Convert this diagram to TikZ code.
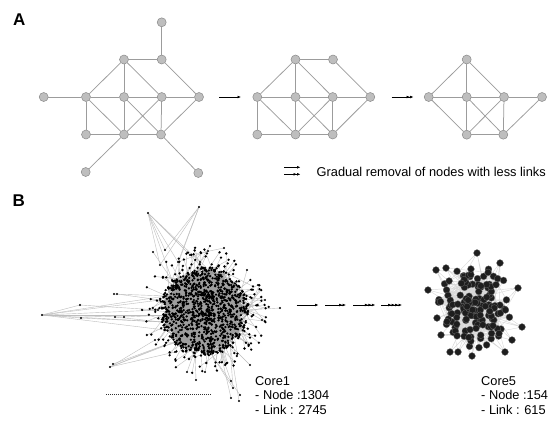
\documentclass[tikz,border=0pt]{standalone}
\usepackage{fontspec}
\setmainfont{Liberation Sans}
\usetikzlibrary{arrows.meta}
\definecolor{nfill}{HTML}{BEBEBE}
\definecolor{nedge}{HTML}{8A8A8A}
\definecolor{gedgec}{HTML}{9C9C9C}
\definecolor{hedgec}{HTML}{9E9E9E}
\definecolor{houtc}{HTML}{BDBDBD}
\definecolor{kedgec}{HTML}{D8D8D8}
\definecolor{knodec}{HTML}{1E1E1E}
\begin{document}
\begin{tikzpicture}[x=1pt,y=-1pt,
  gnode/.style={circle,fill=nfill,draw=nedge,line width=0.5pt,inner sep=0pt,minimum size=9pt},
  gedge/.style={draw=gedgec,line width=0.75pt},
  arr/.style={line width=0.6pt,black},
  tipa/.style={-{Latex[length=3.5pt,width=2.8pt]}},
  tipb/.style={-{Latex[length=3.5pt,width=2.8pt]Latex[length=3.5pt,width=2.8pt]}},
  tipc/.style={-{Latex[length=3.5pt,width=2.8pt]Latex[length=3.5pt,width=2.8pt]Latex[length=3.5pt,width=2.8pt]}},
  tipd/.style={-{Latex[length=3.5pt,width=2.8pt]Latex[length=3.5pt,width=2.8pt]Latex[length=3.5pt,width=2.8pt]Latex[length=3.5pt,width=2.8pt]}},
  hedge/.style={draw=hedgec,line width=0.33pt},
  hout/.style={draw=houtc,line width=0.4pt},
  hdot/.style={fill=black},
  kedge/.style={draw=kedgec,line width=0.4pt},
  knode/.style={fill=knodec,draw=black!60,line width=0.3pt},
  lbl/.style={font=\fontsize{17}{20}\selectfont\bfseries,inner sep=0pt},
  txt/.style={font=\fontsize{12.8}{15}\selectfont,inner sep=0pt,anchor=base west}]
\fill[white] (0,0) rectangle (556,426);
\useasboundingbox (0,0) rectangle (556,426);

\node[lbl] (labA) at (19.2,20) {A};
\node[lbl] (labB) at (18.8,200.3) {B};

% ---------- graph 1
\node[gnode] (g1t) at (161.7,22.3) {};
\node[gnode] (g1a) at (124,59.5) {};
\node[gnode] (g1b) at (161.7,59.5) {};
\node[gnode] (g1l) at (43.7,97) {};
\node[gnode] (g1c) at (86,97) {};
\node[gnode] (g1d) at (124,97) {};
\node[gnode] (g1e) at (161.7,97) {};
\node[gnode] (g1f) at (199,97) {};
\node[gnode] (g1g) at (86,134.5) {};
\node[gnode] (g1h) at (124,134.5) {};
\node[gnode] (g1i) at (161,134.5) {};
\node[gnode] (g1p) at (85.7,172) {};
\node[gnode] (g1q) at (198.3,173) {};
\foreach \u/\v in {t/b,a/b,a/c,a/d,a/e,b/f,l/c,c/d,d/e,e/f,c/g,c/h,d/h,d/i,e/h,e/i,f/i,g/h,h/i,h/p,i/q}
  \draw[gedge] (g1\u) -- (g1\v);

% ---------- graph 2
\node[gnode] (g2a) at (295.5,59.5) {};
\node[gnode] (g2b) at (333,59.5) {};
\node[gnode] (g2c) at (257.3,97) {};
\node[gnode] (g2d) at (295.5,97) {};
\node[gnode] (g2e) at (332.7,97) {};
\node[gnode] (g2f) at (370.3,97) {};
\node[gnode] (g2g) at (257.3,134.5) {};
\node[gnode] (g2h) at (295.5,134.5) {};
\node[gnode] (g2i) at (332.7,134.5) {};
\foreach \u/\v in {a/b,a/c,a/d,a/e,b/f,c/d,d/e,e/f,c/g,c/h,d/h,d/i,e/h,e/i,f/i,g/h,h/i}
  \draw[gedge] (g2\u) -- (g2\v);

% ---------- graph 3
\node[gnode] (g3a) at (466.7,59.5) {};
\node[gnode] (g3c) at (428.7,97) {};
\node[gnode] (g3d) at (466.7,97) {};
\node[gnode] (g3e) at (504,97) {};
\node[gnode] (g3f) at (542,97) {};
\node[gnode] (g3h) at (466.7,134.7) {};
\node[gnode] (g3i) at (503.3,134.7) {};
\foreach \u/\v in {a/c,a/d,a/e,c/d,d/e,e/f,c/h,d/h,d/i,e/h,e/i,f/i,h/i}
  \draw[gedge] (g3\u) -- (g3\v);

% ---------- arrows A
\coordinate (a1s) at (219.3,97); \coordinate (a1e) at (241,97);
\coordinate (a2s) at (391.7,97); \coordinate (a2e) at (413.5,97);
\draw[arr,tipa] (a1s) -- (a1e);
\draw[arr,tipb] (a2s) -- (a2e);
\coordinate (l1s) at (284,167.3); \coordinate (l1e) at (300.5,167.3);
\coordinate (l2s) at (284,174.3); \coordinate (l2e) at (300.5,174.3);
\draw[arr,tipa] (l1s) -- (l1e);
\draw[arr,tipb] (l2s) -- (l2e);
\node[txt,anchor=west] (legend) at (316.5,171.5) {Gradual removal of nodes with less links};

% ---------- Core1 hairball
\pgfmathsetseed{4711}
\foreach \i in {1,...,1000}{
  \pgfmathsetmacro\rr{44*pow(rnd,0.56)}
  \pgfmathsetmacro\aa{360*rnd}
  \coordinate (h\i) at ({205+\rr*cos(\aa)},{311+\rr*sin(\aa)});
}
\foreach \i in {1001,...,1150}{
  \pgfmathsetmacro\rr{42+22*rnd}
  \pgfmathsetmacro\aa{360*rnd}
  \coordinate (h\i) at ({205+\rr*cos(\aa)},{311+\rr*sin(\aa)});
}
\foreach \i in {1001,...,1150}{
  \pgfmathtruncatemacro\ja{random(1,1000)}
  \draw[hout] (h\i) -- (h\ja);
}
% explicit outliers
\coordinate (hL) at (42,315);
\coordinate (hL1) at (80,305); \coordinate (hL2) at (81,318);
\coordinate (hL3) at (114,294); \coordinate (hL4) at (117,294);
\coordinate (hL5) at (124,317); \coordinate (hL6) at (115,317);
\coordinate (hLa) at (160,300); \coordinate (hLb) at (158,310);
\coordinate (hLc) at (162,322); \coordinate (hLd) at (166,296);
\coordinate (hLe) at (165,330); \coordinate (hLf) at (170,315);
\coordinate (hT1) at (148,213); \coordinate (hT2) at (199,207);
\coordinate (hTa) at (165,250); \coordinate (hTb) at (178,262);
\coordinate (hTc) at (190,255); \coordinate (hTd) at (172,280);
\coordinate (hTe) at (160,265); \coordinate (hTf) at (200,262);
\coordinate (hTg) at (153,252); \coordinate (hTh) at (210,246);
\coordinate (hTi) at (224,248); \coordinate (hTj) at (208,251);
\coordinate (hB1) at (110,367); \coordinate (hB2) at (113,364);
\coordinate (hBa) at (165,345); \coordinate (hBb) at (175,352);
\coordinate (hBc) at (155,340); \coordinate (hBd) at (180,340);
\coordinate (hD1) at (231,381); \coordinate (hD2) at (233,388);
\coordinate (hD3) at (231,398); \coordinate (hD4) at (239,401);
\coordinate (hD5) at (240,395); \coordinate (hD6) at (196,380);
\coordinate (hD7) at (205,372); \coordinate (hD8) at (187,372);
\coordinate (hD9) at (250,365);
\coordinate (hDa) at (220,350); \coordinate (hDb) at (230,345);
\coordinate (hDc) at (210,352); \coordinate (hDd) at (195,350);
\coordinate (hR1) at (280,308); \coordinate (hR2) at (265,300);
\coordinate (hR3) at (262,320); \coordinate (hR4) at (258,285);
\coordinate (hR5) at (247,270);
\coordinate (hRa) at (245,310); \coordinate (hRb) at (240,295);
\foreach \u/\v in {L/L1,L/L2,L/La,L/Lb,L/Lc,L/Ld,L/Le,L/Lf,L/L5,L3/Ld,L4/La,L5/Lf,L6/Lc,L1/Lb,L2/Lc,
  T1/Ta,T1/Tb,T1/Tc,T1/Td,T1/Te,T1/Tf,T2/Te,T2/Td,T2/Ta,T2/Tb,Tg/Td,Th/Tf,Ti/Tc,Tj/Tb,
  B1/Ba,B1/Bb,B1/Bc,B1/Bd,B2/Ba,
  D1/Da,D2/Db,D3/Da,D4/Db,D5/Dc,D6/Dd,D7/Dc,D8/Dd,D9/Db,D2/Dc,
  R1/Ra,R2/Rb,R3/Ra,R4/Rb,R5/Rb,R2/Ra}
  \draw[hout] (h\u) -- (h\v);
\foreach \i in {1,...,1000}{
  \pgfmathtruncatemacro\ja{random(1,1000)}
  \pgfmathtruncatemacro\jb{random(1,1000)}
  \draw[hedge] (h\i) -- (h\ja) (h\i) -- (h\jb);
}
\foreach \u in {L,L1,L2,L3,L4,L5,L6,La,Lb,Lc,Ld,Le,Lf,T1,T2,Ta,Tb,Tc,Td,Te,Tf,Tg,Th,Ti,Tj,
  B1,B2,Ba,Bb,Bc,Bd,D1,D2,D3,D4,D5,D6,D7,D8,D9,Da,Db,Dc,Dd,R1,R2,R3,R4,R5,Ra,Rb}
  \fill[hdot] (h\u) circle (1.05pt);
\foreach \i in {1,...,1150}
  \fill[hdot] (h\i) circle (1.3pt);

\coordinate (dotS) at (106,394); \coordinate (dotE) at (212,394);
\draw[black!80,line width=1pt,dash pattern=on 1pt off 1pt] (dotS) -- (dotE);

% ---------- arrows B
\coordinate (b1s) at (296.7,305); \coordinate (b1e) at (318.5,305);
\coordinate (b2s) at (325,305);   \coordinate (b2e) at (346,305);
\coordinate (b3s) at (353.3,305); \coordinate (b3e) at (375.3,305);
\coordinate (b4s) at (381,305);   \coordinate (b4e) at (402,305);
\draw[arr,tipa] (b1s) -- (b1e);
\draw[arr,tipb] (b2s) -- (b2e);
\draw[arr,tipc] (b3s) -- (b3e);
\draw[arr,tipd] (b4s) -- (b4e);

% ---------- Core5
\pgfmathsetseed{2024}
\foreach \i in {1,...,140}{
  \pgfmathsetmacro\rr{38*pow(rnd,0.75)}
  \pgfmathsetmacro\aa{360*rnd}
  \coordinate (k\i) at ({476+\rr*cos(\aa)},{306+1.1*\rr*sin(\aa)});
}
\coordinate (k141) at (477,253); \coordinate (k142) at (428,290);
\coordinate (k143) at (518,288); \coordinate (k144) at (522,327);
\coordinate (k145) at (450,352); \coordinate (k146) at (458,352);
\coordinate (k147) at (436,270); \coordinate (k148) at (446,268);
\coordinate (k149) at (472,356); \coordinate (k150) at (512,340);
\coordinate (k151) at (505,352); \coordinate (k152) at (441,335);
\coordinate (k153) at (437,318); \coordinate (k154) at (500,263);
\foreach \i in {1,...,154}{
  \pgfmathtruncatemacro\ja{random(1,140)}
  \pgfmathtruncatemacro\jb{random(1,140)}
  \pgfmathtruncatemacro\jc{random(1,140)}
  \pgfmathtruncatemacro\jd{random(1,140)}
  \draw[kedge] (k\i) -- (k\ja) (k\i) -- (k\jb) (k\i) -- (k\jc) (k\i) -- (k\jd);
}
\foreach \i in {1,...,154}
  \filldraw[knode] (k\i) circle (3.4pt);

% ---------- texts
\node[txt] (c1a) at (255,385) {Core1};
\node[txt] (c1b) at (255,399.7) {- Node :1304};
\node[txt] (c1c) at (255,414.4) {- Link : 2745};
\node[txt] (c5a) at (481,385) {Core5};
\node[txt] (c5b) at (481,399.7) {- Node :154};
\node[txt] (c5c) at (481,414.4) {- Link : 615};
\end{tikzpicture}
\end{document}
